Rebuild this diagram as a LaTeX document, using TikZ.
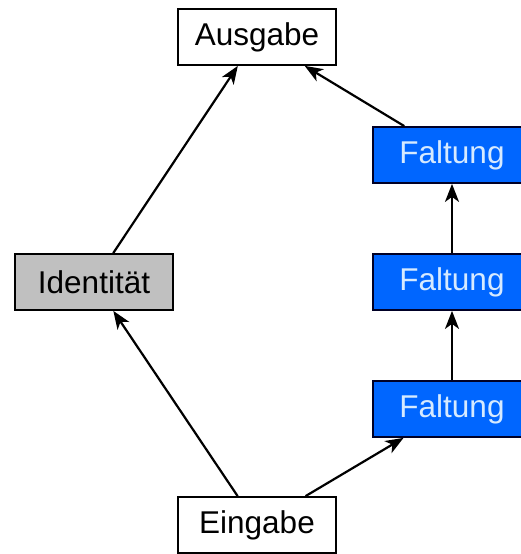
\documentclass[tikz,border=0pt]{standalone}
\usepackage{fontspec}
\setmainfont{Liberation Sans}
\usetikzlibrary{positioning,arrows.meta}
\definecolor{faltblau}{RGB}{0,102,255}
\definecolor{faltschrift}{RGB}{214,234,255}
\definecolor{identgrau}{RGB}{192,192,192}
\tikzset{
  box/.style={rectangle,draw=black,line width=1.8pt,fill=white,minimum width=158pt,minimum height=56pt,inner sep=0pt,font=\fontsize{31.5}{38}\selectfont},
  conv/.style={box,fill=faltblau,draw=black!85!blue,text=faltschrift},
  pfeil/.style={line width=2.2pt,-{Stealth[length=18pt,width=14pt,inset=5pt]}}
}
\begin{document}
\begin{tikzpicture}[x=1pt,y=1pt,auto,node distance=127pt]
		\useasboundingbox (0,0) rectangle (521,554);
		% Place nodes
		\node [box] (eingabe) at (257,29) {Eingabe};
		\node [box,fill=identgrau] (ident) at (94,272) {Identität};
		\node [conv,right of=ident,node distance=358pt] (falt2) {Faltung};
		\node [conv,below of=falt2] (falt1) {Faltung};
		\node [conv,above of=falt2] (falt3) {Faltung};
		\node [box,above of=eingabe,node distance=488pt] (ausgabe) {Ausgabe};

		% Connectors
		\draw [pfeil] (eingabe) -- (ident);
		\draw [pfeil] (eingabe) -- (falt1);
		\draw [pfeil] (falt1) -- (falt2);
		\draw [pfeil] (falt2) -- (falt3);
		\draw [pfeil] (ident) -- (ausgabe);
		\draw [pfeil] (falt3) -- (ausgabe);
	\end{tikzpicture}
\end{document}
